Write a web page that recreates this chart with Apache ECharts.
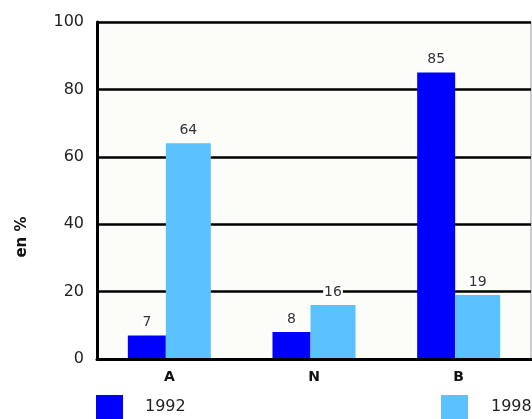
<!DOCTYPE html>
<html>
<head>
<meta charset="utf-8">
<script src="https://cdn.jsdelivr.net/npm/echarts@6/dist/echarts.min.js"></script>
<style>
  html, body { margin: 0; padding: 0; background: #fff; }
  #chart { width: 532px; height: 419px; }
</style>
</head>
<body>
<div id="chart"></div>
<script>
// Share by group, two survey years
const categories = ['A', 'N', 'B'];
const values1992 = [7, 8, 85];
const values1998 = [64, 16, 19];
const yTicks = { min: 0, max: 100, interval: 20 };

const FONT = '"DejaVu Sans", sans-serif';
const DARK = '#0000ff';
const LIGHT = '#5cc2ff';

const valueLabel = {
  show: true,
  position: 'top',
  distance: 6,
  fontFamily: FONT,
  fontSize: 14,
  color: '#333',
  backgroundColor: '#fff',
  padding: [0, 1, 0, 1]
};

const chart = echarts.init(document.getElementById('chart'), null, { renderer: 'canvas' });

chart.setOption({
  animation: false,
  backgroundColor: '#fff',
  grid: {
    left: 97, right: 1, top: 22, bottom: 60,
    show: true,
    backgroundColor: '#fcfdf8',
    borderColor: '#999',
    borderWidth: 1
  },
  legend: [
    {
      data: ['1992'], left: 91, top: 390,
      icon: 'rect', itemWidth: 27, itemHeight: 24,
      selectedMode: false,
      textStyle: { fontFamily: FONT, fontSize: 16, color: '#222', padding: [0, 0, 0, 17] }
    },
    {
      data: ['1998'], left: 436, top: 390,
      icon: 'rect', itemWidth: 27, itemHeight: 24,
      selectedMode: false,
      textStyle: { fontFamily: FONT, fontSize: 16, color: '#222', padding: [0, 0, 0, 18] }
    }
  ],
  xAxis: {
    type: 'category',
    data: categories,
    axisLine: { show: true, lineStyle: { color: '#000', width: 3 } },
    axisTick: { show: false },
    axisLabel: { fontFamily: FONT, fontSize: 14, fontWeight: 'bold', color: '#111', margin: 11 },
    z: 5
  },
  yAxis: {
    type: 'value',
    min: yTicks.min, max: yTicks.max, interval: yTicks.interval,
    axisLine: { show: true, lineStyle: { color: '#000', width: 3 } },
    axisTick: { show: false },
    axisLabel: { fontFamily: FONT, fontSize: 16, color: '#222', margin: 13 },
    splitLine: { show: true, lineStyle: { color: '#000', width: 2.5 } }
  },
  graphic: [
    {
      type: 'text',
      x: 22, y: 237,
      rotation: Math.PI / 2,
      style: {
        text: 'en %',
        fontFamily: FONT,
        fontSize: 15,
        fontWeight: 'bold',
        fill: '#111',
        align: 'center',
        verticalAlign: 'middle'
      }
    }
  ],
  series: [
    {
      name: '1992', type: 'bar', data: values1992,
      barWidth: 38, barGap: '0%',
      itemStyle: { color: DARK },
      label: valueLabel
    },
    {
      name: '1998', type: 'bar', data: values1998,
      barWidth: 45, barGap: '0%',
      itemStyle: { color: LIGHT },
      label: valueLabel
    }
  ]
});
</script>
</body>
</html>
